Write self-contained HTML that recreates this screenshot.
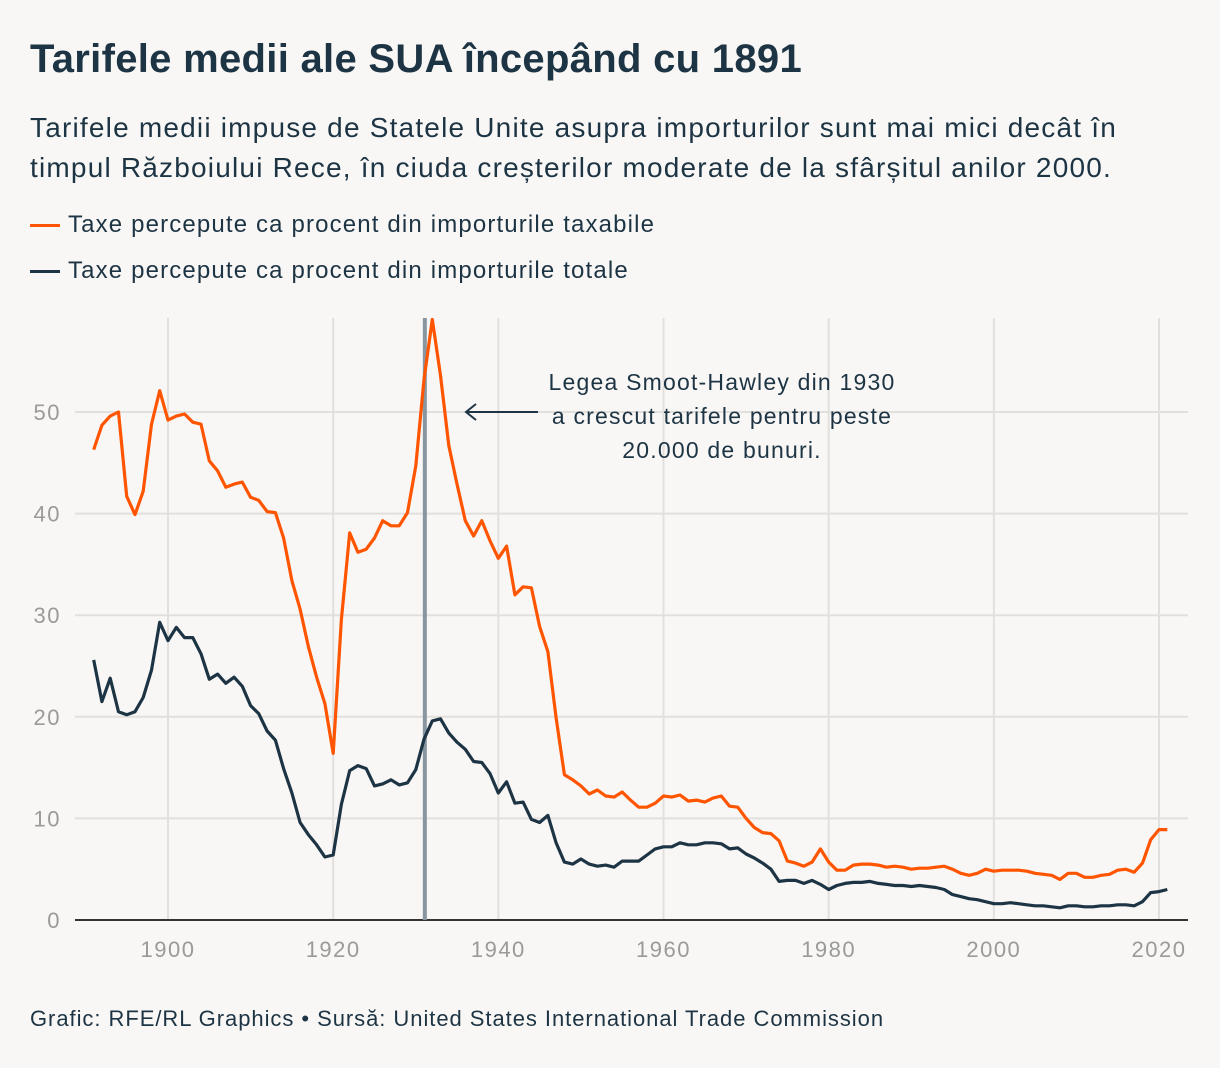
<!DOCTYPE html>
<html><head><meta charset="utf-8"><style>
body{margin:0;background:#f8f7f5;font-family:"Liberation Sans",sans-serif;color:#1d3444;}
#wrap{position:relative;width:1220px;height:1068px;overflow:hidden;}
h1{position:absolute;left:30px;top:37px;margin:0;font-size:40px;font-weight:bold;letter-spacing:0.3px;white-space:nowrap;}
.sub{position:absolute;left:30px;top:108px;font-size:28px;line-height:40px;width:1180px;letter-spacing:1.2px;word-spacing:0px;white-space:nowrap;}
.leg{position:absolute;left:30px;font-size:24px;letter-spacing:1.15px;display:flex;align-items:center;white-space:nowrap;}
.leg span.sw{display:inline-block;width:30px;height:3px;margin-right:8px;}
.foot{position:absolute;left:30px;top:1006px;font-size:22px;letter-spacing:0.95px;white-space:nowrap;}
svg{position:absolute;left:0;top:0;}
</style></head><body><div id="wrap">
<h1>Tarifele medii ale SUA începând cu 1891</h1>
<div class="sub">Tarifele medii impuse de Statele Unite asupra importurilor sunt mai mici decât în<br>timpul Războiului Rece, în ciuda creșterilor moderate de la sfârșitul anilor 2000.</div>
<div class="leg" style="top:211px"><span class="sw" style="background:#ff5500"></span>Taxe percepute ca procent din importurile taxabile</div>
<div class="leg" style="top:257px"><span class="sw" style="background:#1d3444"></span>Taxe percepute ca procent din importurile totale</div>
<svg id="chart" width="1220" height="1068"></svg>
<div class="foot">Grafic: RFE/RL Graphics • Sursă: United States International Trade Commission</div>
</div>
<script>
const startYear = 1891;
const taxable = [46.3,48.7,49.6,50.0,41.7,39.9,42.2,48.8,52.1,49.2,49.6,49.8,49.0,48.8,45.2,44.2,42.6,42.9,43.1,41.6,41.3,40.2,40.1,37.6,33.4,30.6,26.9,23.9,21.3,16.4,29.6,38.1,36.2,36.5,37.6,39.3,38.8,38.8,40.1,44.7,53.2,59.1,53.6,46.7,42.9,39.3,37.8,39.3,37.3,35.6,36.8,32.0,32.8,32.7,28.9,26.4,19.9,14.3,13.8,13.2,12.4,12.8,12.2,12.1,12.6,11.8,11.1,11.1,11.5,12.2,12.1,12.3,11.7,11.8,11.6,12.0,12.2,11.2,11.1,10.0,9.1,8.6,8.5,7.8,5.8,5.6,5.3,5.7,7.0,5.7,4.9,4.9,5.4,5.5,5.5,5.4,5.2,5.3,5.2,5.0,5.1,5.1,5.2,5.3,5.0,4.6,4.4,4.6,5.0,4.8,4.9,4.9,4.9,4.8,4.6,4.5,4.4,4.0,4.6,4.6,4.2,4.2,4.4,4.5,4.9,5.0,4.7,5.6,7.9,8.9,8.9];
const total = [25.6,21.5,23.8,20.5,20.2,20.5,21.9,24.6,29.3,27.5,28.8,27.8,27.8,26.2,23.7,24.2,23.3,23.9,23.0,21.1,20.3,18.6,17.7,14.9,12.5,9.6,8.4,7.4,6.2,6.4,11.4,14.7,15.2,14.9,13.2,13.4,13.8,13.3,13.5,14.8,17.8,19.6,19.8,18.4,17.5,16.8,15.6,15.5,14.4,12.5,13.6,11.5,11.6,9.9,9.6,10.3,7.6,5.7,5.5,6.0,5.5,5.3,5.4,5.2,5.8,5.8,5.8,6.4,7.0,7.2,7.2,7.6,7.4,7.4,7.6,7.6,7.5,7.0,7.1,6.5,6.1,5.6,5.0,3.8,3.9,3.9,3.6,3.9,3.5,3.0,3.4,3.6,3.7,3.7,3.8,3.6,3.5,3.4,3.4,3.3,3.4,3.3,3.2,3.0,2.5,2.3,2.1,2.0,1.8,1.6,1.6,1.7,1.6,1.5,1.4,1.4,1.3,1.2,1.4,1.4,1.3,1.3,1.4,1.4,1.5,1.5,1.4,1.8,2.7,2.8,3.0];
const yTicks = [0,10,20,30,40,50];
const xTicks = [1900,1920,1940,1960,1980,2000,2020];
const markerYear = 1931.1;

const svg = document.getElementById('chart');
const NS = 'http://www.w3.org/2000/svg';
const x = yr => 168 + (yr - 1900) * (1159 - 168) / 120;
const y = v => 920 - v * (920 - 412) / 50;
function mk(tag, attrs){const e=document.createElementNS(NS,tag);for(const k in attrs)e.setAttribute(k,attrs[k]);svg.appendChild(e);return e;}
yTicks.forEach(t=>{
  if(t>0){const g=mk('line',{x1:75,x2:1188,y1:y(t),y2:y(t),stroke:'#e2e0dd','stroke-width':2});
  
  }
  const l=mk('text',{x:61,y:y(t)+8,'text-anchor':'end','font-size':22,'letter-spacing':1.5,fill:'#9a9a9a','font-family':'Liberation Sans'});
  l.textContent=t;
  
  
});
xTicks.forEach(t=>{
  const g=mk('line',{x1:x(t),x2:x(t),y1:318,y2:920,stroke:'#e2e0dd','stroke-width':2});
  
  
  const l=mk('text',{x:x(t),y:957,'text-anchor':'middle','font-size':22,'letter-spacing':1.5,fill:'#9a9a9a','font-family':'Liberation Sans'});
  l.textContent=t;
  
  
});
const ax=mk('line',{x1:75,x2:1188,y1:920,y2:920,stroke:'#333','stroke-width':2});


const vl=mk('line',{x1:x(markerYear),x2:x(markerYear),y1:318,y2:920,stroke:'#8796a0','stroke-width':4});


function path(arr,color,name){
  const d=arr.map((v,i)=>(i?'L':'M')+x(startYear+i).toFixed(1)+','+y(v).toFixed(1)).join('');
  const p=mk('path',{d:d,fill:'none',stroke:color,'stroke-width':3.2,'stroke-linejoin':'round'});
  
  
}
path(total,'#1d3444','line-total-imports');
path(taxable,'#ff5500','line-taxable-imports');
const ar=mk('path',{d:'M538,412 L466,412 M476,404 L466,412 L476,420',fill:'none',stroke:'#1d3444','stroke-width':2});


['Legea Smoot-Hawley din 1930','a crescut tarifele pentru peste','20.000 de bunuri.'].forEach((s,i)=>{
  const t=mk('text',{x:722,y:390+i*34,'text-anchor':'middle','font-size':23,'letter-spacing':1.2,fill:'#1d3444','font-family':'Liberation Sans'});
  t.textContent=s;
  
  
});
</script></body></html>
